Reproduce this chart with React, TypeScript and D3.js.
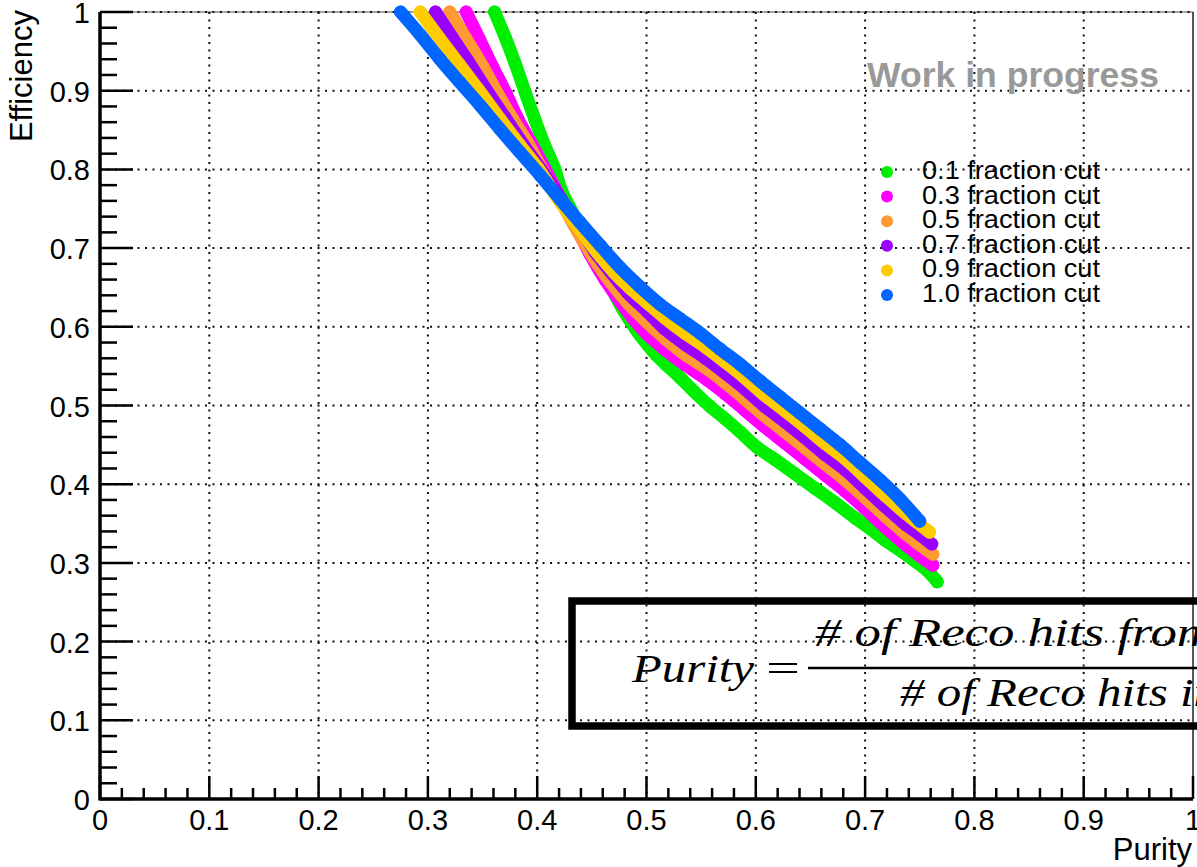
import React from "react";
import * as d3 from "d3";

const W = 1197;
const H = 867;

// Tick values shared by both axes
const majorTicks = [0, 0.1, 0.2, 0.3, 0.4, 0.5, 0.6, 0.7, 0.8, 0.9, 1];
const tickLabels = ["0", "0.1", "0.2", "0.3", "0.4", "0.5", "0.6", "0.7", "0.8", "0.9", "1"];

// Series metadata
const cutLabels = [
  "0.1 fraction cut",
  "0.3 fraction cut",
  "0.5 fraction cut",
  "0.7 fraction cut",
  "0.9 fraction cut",
  "1.0 fraction cut",
];
const cutColors = ["#00ee00", "#ff00ff", "#ff9933", "#9900ff", "#ffcc00", "#0066ff"];

// 0.1 fraction cut
const cut01Purity = [0.361, 0.371, 0.38, 0.389, 0.398, 0.407, 0.416, 0.422, 0.432, 0.443, 0.455, 0.467, 0.478, 0.492, 0.501, 0.509, 0.517, 0.531, 0.544, 0.558, 0.572, 0.586, 0.601, 0.618, 0.636, 0.654, 0.673, 0.691, 0.705, 0.718, 0.732, 0.746, 0.757, 0.766];
const cut01Eff = [1.0, 0.967, 0.934, 0.898, 0.863, 0.83, 0.801, 0.774, 0.746, 0.715, 0.684, 0.652, 0.623, 0.593, 0.577, 0.564, 0.553, 0.535, 0.517, 0.499, 0.483, 0.466, 0.447, 0.431, 0.413, 0.395, 0.376, 0.357, 0.343, 0.329, 0.316, 0.302, 0.29, 0.276];

// 0.3 fraction cut
const cut03Purity = [0.335, 0.347, 0.359, 0.371, 0.382, 0.395, 0.407, 0.421, 0.435, 0.448, 0.462, 0.476, 0.488, 0.501, 0.517, 0.535, 0.554, 0.572, 0.59, 0.608, 0.627, 0.645, 0.663, 0.682, 0.7, 0.718, 0.737, 0.75, 0.762];
const cut03Eff = [1.0, 0.966, 0.931, 0.898, 0.865, 0.832, 0.801, 0.764, 0.728, 0.693, 0.66, 0.632, 0.61, 0.59, 0.571, 0.552, 0.534, 0.515, 0.494, 0.473, 0.452, 0.432, 0.412, 0.391, 0.369, 0.346, 0.323, 0.309, 0.297];

// 0.5 fraction cut
const cut05Purity = [0.32, 0.335, 0.35, 0.363, 0.377, 0.391, 0.404, 0.421, 0.437, 0.452, 0.467, 0.483, 0.501, 0.517, 0.535, 0.554, 0.572, 0.59, 0.608, 0.627, 0.645, 0.663, 0.682, 0.7, 0.718, 0.737, 0.75, 0.762];
const cut05Eff = [1.0, 0.966, 0.931, 0.898, 0.865, 0.834, 0.801, 0.761, 0.721, 0.687, 0.657, 0.63, 0.605, 0.585, 0.565, 0.548, 0.529, 0.508, 0.487, 0.466, 0.446, 0.426, 0.405, 0.383, 0.36, 0.337, 0.323, 0.311];

// 0.7 fraction cut
const cut07Purity = [0.307, 0.322, 0.337, 0.355, 0.371, 0.386, 0.403, 0.421, 0.439, 0.453, 0.467, 0.483, 0.501, 0.517, 0.535, 0.554, 0.572, 0.59, 0.608, 0.627, 0.645, 0.663, 0.682, 0.7, 0.718, 0.737, 0.75, 0.761];
const cut07Eff = [1.0, 0.968, 0.937, 0.898, 0.865, 0.834, 0.801, 0.764, 0.726, 0.695, 0.67, 0.643, 0.619, 0.597, 0.578, 0.56, 0.541, 0.521, 0.499, 0.479, 0.459, 0.438, 0.418, 0.395, 0.372, 0.349, 0.336, 0.324];

// 0.9 fraction cut
const cut09Purity = [0.293, 0.311, 0.329, 0.348, 0.366, 0.384, 0.401, 0.416, 0.43, 0.444, 0.458, 0.471, 0.485, 0.501, 0.517, 0.535, 0.554, 0.572, 0.59, 0.608, 0.627, 0.645, 0.663, 0.682, 0.7, 0.718, 0.737, 0.748, 0.759];
const cut09Eff = [1.0, 0.966, 0.933, 0.898, 0.864, 0.831, 0.801, 0.769, 0.741, 0.714, 0.689, 0.668, 0.649, 0.63, 0.611, 0.592, 0.574, 0.555, 0.535, 0.513, 0.493, 0.473, 0.452, 0.432, 0.409, 0.386, 0.363, 0.351, 0.339];

// 1.0 fraction cut
const cut10Purity = [0.275, 0.293, 0.311, 0.329, 0.348, 0.366, 0.384, 0.403, 0.421, 0.439, 0.458, 0.476, 0.494, 0.512, 0.531, 0.549, 0.567, 0.586, 0.604, 0.622, 0.64, 0.659, 0.677, 0.695, 0.714, 0.732, 0.75];
const cut10Eff = [1.0, 0.971, 0.94, 0.911, 0.881, 0.851, 0.822, 0.792, 0.762, 0.733, 0.703, 0.675, 0.651, 0.629, 0.61, 0.592, 0.572, 0.552, 0.531, 0.511, 0.491, 0.47, 0.45, 0.428, 0.405, 0.381, 0.353];

const purities = [cut01Purity, cut03Purity, cut05Purity, cut07Purity, cut09Purity, cut10Purity];
const efficiencies = [cut01Eff, cut03Eff, cut05Eff, cut07Eff, cut09Eff, cut10Eff];

const SANS = "'Liberation Sans', Arial, Helvetica, sans-serif";
const SERIF = "'Liberation Serif', 'DejaVu Serif', serif";

export default function App() {
  const x = d3.scaleLinear().domain([0, 1]).range([100, 1193]);
  const y = d3.scaleLinear().domain([0, 1]).range([799, 12]);

  const series = cutLabels.map((label, i) => ({
    label,
    color: cutColors[i],
    points: purities[i].map((p, j) => [p, efficiencies[i][j]] as [number, number]),
  }));

  const line = d3
    .line<[number, number]>()
    .x((d) => x(d[0]))
    .y((d) => y(d[1]))
    .curve(d3.curveCatmullRom.alpha(0.5));

  const minorTicks = d3.range(0, 51).map((i) => i / 50).filter((_, i) => i % 5 !== 0);
  const markerR = 6.5;
  const gridDash = "2 5.5";

  const legendX = 887;
  const legendY0 = 172;
  const legendStep = 24.6;

  return (
    <svg
      width={W}
      height={H}
      viewBox={`0 0 ${W} ${H}`}
      style={{ position: "absolute", left: 0, top: 0, background: "#fff" }}
    >
      <rect x={0} y={0} width={W} height={H} fill="#fff" />

      {/* frame top & right */}
      <line x1={x(0)} x2={x(1)} y1={y(1)} y2={y(1)} stroke="#444" strokeWidth={1} />
      <line x1={x(1)} x2={x(1)} y1={y(1)} y2={y(0)} stroke="#222" strokeWidth={1.5} />

      {/* dotted grid */}
      {majorTicks.slice(1, -1).map((t) => (
        <line key={`gx${t}`} x1={x(t)} x2={x(t)} y1={y(1)} y2={y(0)} stroke="#111" strokeWidth={2} strokeDasharray={gridDash} />
      ))}
      {majorTicks.slice(1).map((t) => (
        <line key={`gy${t}`} x1={x(0)} x2={x(1)} y1={y(t)} y2={y(t)} stroke="#111" strokeWidth={2} strokeDasharray={gridDash} />
      ))}

      {/* formula box */}
      <rect x={572} y={601} width={700} height={125} fill="none" stroke="#000" strokeWidth={7.5} />
      <g fontFamily={SERIF} fontStyle="italic" fill="#000">
        <text x={632} y={682} fontSize={40} textLength={122} lengthAdjust="spacingAndGlyphs">Purity</text>
        <text x={766} y={682} fontSize={40} fontStyle="normal" textLength={34} lengthAdjust="spacingAndGlyphs">=</text>
        <text x={815} y={646} fontSize={40} textLength={400} lengthAdjust="spacingAndGlyphs"># of Reco hits from</text>
        <text x={900} y={706} fontSize={40} textLength={318} lengthAdjust="spacingAndGlyphs"># of Reco hits in</text>
      </g>
      <line x1={808} x2={1220} y1={668} y2={668} stroke="#000" strokeWidth={2.5} />

      {/* data series */}
      {series.map((s) => (
        <g key={s.label}>
          <path
            d={line(s.points) || ""}
            fill="none"
            stroke={s.color}
            strokeWidth={markerR * 2}
            strokeLinecap="round"
            strokeLinejoin="round"
          />
          {s.points.map((p, j) => (
            <circle key={j} cx={x(p[0])} cy={y(p[1])} r={markerR} fill={s.color} />
          ))}
        </g>
      ))}

      {/* axes */}
      <g stroke="#000" strokeWidth={2.5}>
        {majorTicks.map((t) => (
          <line key={`xt${t}`} x1={x(t)} x2={x(t)} y1={y(0)} y2={y(0) - 23} />
        ))}
        {minorTicks.map((t) => (
          <line key={`xm${t}`} x1={x(t)} x2={x(t)} y1={y(0)} y2={y(0) - 11} />
        ))}
        {majorTicks.map((t) => (
          <line key={`yt${t}`} x1={x(0)} x2={x(0) + 33} y1={y(t)} y2={y(t)} />
        ))}
        {minorTicks.map((t) => (
          <line key={`ym${t}`} x1={x(0)} x2={x(0) + 17} y1={y(t)} y2={y(t)} />
        ))}
      </g>
      <line x1={x(0)} x2={x(1)} y1={y(0)} y2={y(0)} stroke="#000" strokeWidth={3.5} />
      <line x1={x(0)} x2={x(0)} y1={y(0) + 1.5} y2={y(1)} stroke="#000" strokeWidth={3.5} />

      {/* tick labels */}
      <g fontFamily={SANS} fontSize={29} fill="#000">
        {majorTicks.map((t, i) => (
          <text key={`xl${t}`} x={x(t)} y={830} textAnchor="middle">
            {tickLabels[i]}
          </text>
        ))}
        {majorTicks.map((t, i) => (
          <text key={`yl${t}`} x={90} y={y(t) + 11} textAnchor="end">
            {tickLabels[i]}
          </text>
        ))}
      </g>

      {/* axis titles */}
      <text x={1192} y={860} textAnchor="end" fontFamily={SANS} fontSize={31} fill="#000">
        Purity
      </text>
      <text
        transform="translate(32,10) rotate(-90)"
        textAnchor="end"
        fontFamily={SANS}
        fontSize={31}
        fill="#000"
      >
        Efficiency
      </text>

      {/* watermark */}
      <text x={867} y={87} fontFamily={SANS} fontSize={35.6} fontWeight="bold" fill="#999">
        Work in progress
      </text>

      {/* legend */}
      <g fontFamily={SANS} fontSize={25} fill="#000">
        {series.map((s, i) => (
          <g key={`lg${s.label}`}>
            <circle cx={legendX} cy={legendY0 + i * legendStep} r={6} fill={s.color} />
            <text x={922} y={legendY0 + i * legendStep + 7} textLength={178} lengthAdjust="spacingAndGlyphs">
              {s.label}
            </text>
          </g>
        ))}
      </g>
    </svg>
  );
}
